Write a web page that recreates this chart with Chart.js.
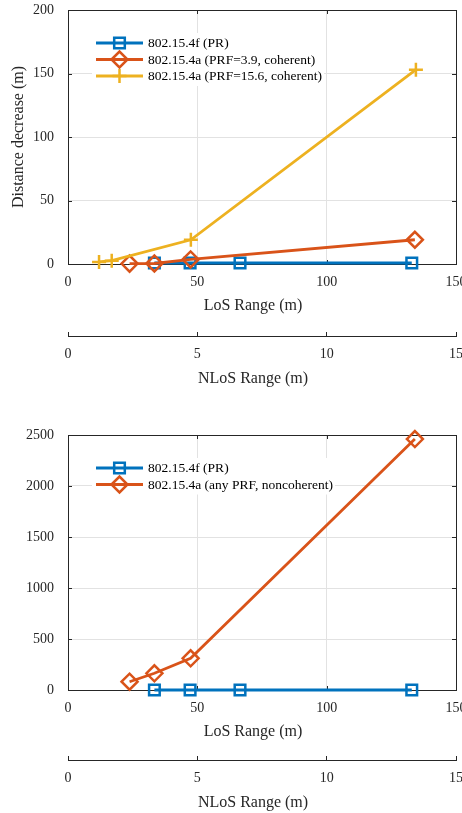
<!DOCTYPE html>
<html>
<head>
<style>
  html, body { margin: 0; padding: 0; background: #fff; overflow: hidden; }
  .box { position: relative; width: 462px; }
  canvas { display: block; }
</style>
</head>
<body>
<div class="box" style="height:400px"><canvas id="chartTop"></canvas></div>
<div class="box" style="height:413px"><canvas id="chartBottom"></canvas></div>

<script src="https://cdn.jsdelivr.net/npm/chart.js@4.4.0/dist/chart.umd.min.js"></script>
<script>
// ---- data ----
const losTicks = [0, 50, 100, 150];
const nlosTicks = [0, 5, 10, 15];
const topYTicks = [0, 50, 100, 150, 200];
const bottomYTicks = [0, 500, 1000, 1500, 2000, 2500];

// top panel (coherent)
const prLos = [33.4, 47.2, 66.5, 132.9];
const prDecrease = [0.8, 0.8, 0.8, 0.8];
const coh39Los = [23.8, 33.4, 47.4, 134.1];
const coh39Decrease = [0.3, 0.4, 3.6, 19.1];
const coh156Los = [12.0, 16.9, 47.5, 134.5];
const coh156Decrease = [1.6, 2.6, 19.1, 153.0];

// bottom panel (noncoherent)
const prLosB = [33.4, 47.2, 66.5, 132.9];
const prDecreaseB = [0, 0, 0, 0];
const noncohLos = [23.8, 33.4, 47.4, 134.1];
const noncohDecrease = [81, 164, 311, 2460];

const topLabels = ['802.15.4f (PR)', '802.15.4a (PRF=3.9, coherent)', '802.15.4a (PRF=15.6, coherent)'];
const bottomLabels = ['802.15.4f (PR)', '802.15.4a (any PRF, noncoherent)'];
const losTitle = 'LoS Range (m)';
const nlosTitle = 'NLoS Range (m)';

const BLUE = '#0072BD', ORANGE = '#D95319', YELLOW = '#EDB120';
const AXIS = '#262626', GRID = '#e2e2e2', TEXT = '#262626';
const SERIF = '"Liberation Serif", "DejaVu Serif", serif';

// box around the plot with inward ticks, MATLAB style
const framePlugin = {
    id: 'frame',
    beforeDatasetsDraw(chart) {
        const { ctx, chartArea: a, scales } = chart;
        ctx.save();
        ctx.strokeStyle = AXIS;
        ctx.lineWidth = 1;
        ctx.beginPath();
        scales.x.ticks.forEach(t => {
            const px = Math.round(scales.x.getPixelForValue(t.value)) + 0.5;
            ctx.moveTo(px, a.top); ctx.lineTo(px, a.top + 4);
            ctx.moveTo(px, a.bottom); ctx.lineTo(px, a.bottom - 4);
        });
        scales.y.ticks.forEach(t => {
            const py = Math.round(scales.y.getPixelForValue(t.value)) + 0.5;
            ctx.moveTo(a.left, py); ctx.lineTo(a.left + 4, py);
            ctx.moveTo(a.right, py); ctx.lineTo(a.right - 4, py);
        });
        ctx.stroke();
        ctx.strokeRect(Math.round(a.left) + 0.5, Math.round(a.top) + 0.5,
            Math.round(a.right - a.left), Math.round(a.bottom - a.top));
        ctx.restore();
    },
    afterDraw(chart) {
        const { ctx, chartArea: a, scales } = chart;

        // x axis titles (MATLAB puts them a little left of the axis centre)
        const midX = (a.left + a.right) / 2 - 9;
        ctx.save();
        ctx.font = '16px ' + SERIF;
        ctx.fillStyle = TEXT;
        ctx.textAlign = 'center';
        ctx.textBaseline = 'middle';
        ctx.fillText(losTitle, midX, scales.x.top + 42);
        ctx.fillText(nlosTitle, midX, scales.x2.top + 42.5);
        ctx.restore();

        // legend: line sample with marker in the middle, white background
        const sets = chart.data.datasets;
        const rowH = 16.5;
        const left = a.left + 24;
        const firstRow = a.top + 33;
        ctx.save();
        ctx.font = '13.5px ' + SERIF;
        let textW = 0;
        sets.forEach(d => { textW = Math.max(textW, ctx.measureText(d.label).width); });
        ctx.fillStyle = '#fff';
        ctx.fillRect(left, firstRow - 10, 58 + textW, (sets.length - 1) * rowH + 20);
        sets.forEach((d, i) => {
            const y = firstRow + i * rowH;
            ctx.strokeStyle = d.borderColor;
            ctx.lineWidth = d.borderWidth;
            ctx.beginPath();
            ctx.moveTo(left + 4, y); ctx.lineTo(left + 51, y);
            ctx.stroke();
            ctx.fillStyle = 'rgba(0,0,0,0)';
            ctx.lineWidth = d.pointBorderWidth;
            Chart.helpers.drawPoint(ctx, {
                pointStyle: d.pointStyle, radius: d.pointRadius, rotation: 0, borderWidth: d.pointBorderWidth
            }, left + 27.5, y);
            ctx.fillStyle = '#000';
            ctx.textBaseline = 'middle';
            ctx.fillText(d.label, left + 56, y + 0.5);
        });
        ctx.restore();
    }
};

function series(label, xs, ys, color, marker, radius) {
    return {
        label: label,
        data: xs.map((v, j) => ({ x: v, y: ys[j] })),
        showLine: true,
        borderColor: color,
        borderWidth: 2.8,
        backgroundColor: 'rgba(0,0,0,0)',
        pointBackgroundColor: 'rgba(0,0,0,0)',
        pointBorderColor: color,
        pointBorderWidth: 2.5,
        pointStyle: marker,
        pointRadius: radius,
        clip: false
    };
}

function tickFont(size) { return { family: SERIF, size: size }; }
const plainLabel = v => String(v);

// fixed scale size, and no extra room reserved for overhanging tick labels
function fixSize(s, w, h) {
    if (w !== null) s.width = w;
    if (h !== null) s.height = h;
    s.paddingLeft = 0; s.paddingRight = 0; s.paddingTop = 0; s.paddingBottom = 0;
}

function makeChart(id, cfg) {
    cfg.datasets.forEach((d, i) => { d.order = cfg.datasets.length - i; });
    return new Chart(document.getElementById(id), {
        type: 'scatter',
        data: { datasets: cfg.datasets },
        plugins: [framePlugin],
        options: {
            responsive: true,
            maintainAspectRatio: false,
            animation: false,
            events: [],
            layout: { autoPadding: false, padding: { left: 0, right: 6, top: cfg.padTop, bottom: 0 } },
            plugins: { legend: { display: false }, tooltip: { enabled: false } },
            scales: {
                x: {
                    type: 'linear', position: 'bottom', weight: 0, min: 0, max: 150,
                    afterBuildTicks: s => { s.ticks = losTicks.map(v => ({ value: v })); },
                    afterFit: s => fixSize(s, null, cfg.xH),
                    grid: { color: GRID, drawTicks: false },
                    border: { display: false },
                    ticks: { padding: 10, color: TEXT, font: tickFont(14), maxRotation: 0, autoSkip: false, callback: plainLabel }
                },
                x2: {
                    type: 'linear', position: 'bottom', weight: 1, min: 0, max: 15,
                    afterBuildTicks: s => { s.ticks = nlosTicks.map(v => ({ value: v })); },
                    afterFit: s => fixSize(s, null, cfg.x2H),
                    grid: { display: true, drawOnChartArea: false, drawTicks: true, tickLength: -4, color: AXIS },
                    border: { display: true, color: AXIS, width: 1 },
                    ticks: { padding: 14, color: TEXT, font: tickFont(14), maxRotation: 0, autoSkip: false, callback: plainLabel }
                },
                y: {
                    type: 'linear', min: 0, max: cfg.yTicks[cfg.yTicks.length - 1],
                    afterBuildTicks: s => { s.ticks = cfg.yTicks.map(v => ({ value: v })); },
                    afterFit: s => fixSize(s, 68, null),
                    grid: { color: GRID, drawTicks: false },
                    border: { display: false },
                    ticks: { padding: 14, color: TEXT, font: tickFont(14), callback: plainLabel },
                    title: { display: !!cfg.yTitle, text: cfg.yTitle || '', color: TEXT, font: tickFont(16),
                        padding: { top: 9, bottom: 0 } }
                }
            }
        }
    });
}

makeChart('chartTop', {
    padTop: 10, xH: 72, x2H: 64,
    yTicks: topYTicks, yTitle: 'Distance decrease (m)',
    datasets: [
        series(topLabels[0], prLos, prDecrease, BLUE, 'rect', 7.5),
        series(topLabels[1], coh39Los, coh39Decrease, ORANGE, 'rectRot', 8),
        series(topLabels[2], coh156Los, coh156Decrease, YELLOW, 'cross', 7)
    ]
});

makeChart('chartBottom', {
    padTop: 35, xH: 70, x2H: 53,
    yTicks: bottomYTicks, yTitle: null,
    datasets: [
        series(bottomLabels[0], prLosB, prDecreaseB, BLUE, 'rect', 7.5),
        series(bottomLabels[1], noncohLos, noncohDecrease, ORANGE, 'rectRot', 8)
    ]
});
</script>
</body>
</html>
